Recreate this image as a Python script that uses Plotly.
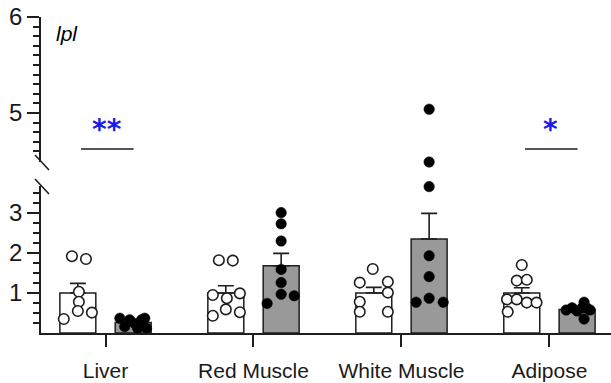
import plotly.graph_objects as go
import numpy as np

# Tissues on the x axis
tissues = ["Liver", "Red Muscle", "White Muscle", "Adipose"]

# Individual relative expression values (open = control, filled = treated)
ctrl_points = [
    [1.92, 1.85, 1.03, 0.78, 0.55, 0.51, 0.35],
    [1.82, 1.81, 0.95, 0.87, 0.99, 0.59, 0.52, 0.43],
    [1.60, 1.26, 1.28, 1.01, 0.78, 0.53, 0.53],
    [1.70, 1.31, 1.33, 0.84, 0.84, 0.76, 0.76, 0.53],
]
trt_points = [
    [0.37, 0.16, 0.33, 0.24, 0.12, 0.37, 0.12, 0.33],
    [3.01, 2.73, 2.30, 1.59, 1.26, 0.97, 0.93, 0.74],
    [5.04, 4.49, 3.66, 1.93, 1.41, 0.87, 0.77, 0.77],
    [0.575, 0.63, 0.55, 0.77, 0.575, 0.35, 0.63, 0.62],
]

# Bar means and SEM
ctrl_mean = [1.0, 1.0, 1.0, 1.0]
ctrl_sem = [0.24, 0.18, 0.14, 0.13]
trt_mean = [0.26, 1.68, 2.35, 0.59]
trt_sem = [0.04, 0.31, 0.64, 0.05]

# Horizontal spread of the dots within each bar (category units)
ctrl_jitter = [
    [-0.04, 0.055, 0.007, 0.007, 0.0, 0.095, -0.095],
    [-0.047, 0.047, -0.088, 0.007, 0.095, 0.0, 0.095, -0.088],
    [-0.007, -0.095, 0.095, 0.095, -0.095, -0.095, 0.095],
    [0.0, -0.034, 0.034, -0.1, -0.034, 0.034, 0.1, -0.095],
]
trt_jitter = [
    [-0.09, -0.057, -0.024, 0.01, 0.03, 0.078, 0.09, 0.057],
    [0.0, 0.0, 0.0, 0.0, 0.0, 0.0, 0.088, -0.095],
    [0.0, 0.0, 0.0, 0.0, 0.0, 0.0, -0.088, 0.095],
    [-0.074, -0.034, 0.0, 0.047, 0.088, 0.047, 0.034, 0.068],
]

# Significance marks: (tissue index, label)
sig_marks = [(0, "**"), (3, "*")]
sig_level = 4.625

# Broken axis layout
LOW_RANGE = [0, 3.675]
HIGH_RANGE = [4.49, 6]
LOW_DOM = [0, 0.4652]
HIGH_DOM = [0.5411, 1]

INK = "#1e1e1e"
GREY = "#999999"
FONT = "Liberation Sans, Arial, sans-serif"
OFF = 0.187
BW = 0.243

idx = np.arange(len(tissues))
fig = go.Figure()

fig.add_trace(go.Bar(
    x=idx - OFF, y=ctrl_mean, width=BW,
    marker=dict(color="white", line=dict(color=INK, width=1.5)),
    error_y=dict(type="data", array=ctrl_sem, arrayminus=[0] * 4, symmetric=False,
                 color=INK, thickness=1.6, width=8),
    xaxis="x", yaxis="y", showlegend=False,
))
fig.add_trace(go.Bar(
    x=idx + OFF, y=trt_mean, width=BW,
    marker=dict(color=GREY, line=dict(color=INK, width=1.5)),
    error_y=dict(type="data", array=trt_sem, arrayminus=[0] * 4, symmetric=False,
                 color=INK, thickness=1.6, width=8),
    xaxis="x", yaxis="y", showlegend=False,
))


def split_points(points, jitter, offset):
    lo_x, lo_y, hi_x, hi_y = [], [], [], []
    for i, (vals, jit) in enumerate(zip(points, jitter)):
        for v, j in zip(vals, jit):
            xv = i + offset + j
            if v > 4:
                hi_x.append(xv); hi_y.append(v)
            else:
                lo_x.append(xv); lo_y.append(v)
    return lo_x, lo_y, hi_x, hi_y


open_marker = dict(symbol="circle", size=10.5, color="white", line=dict(color=INK, width=1.6))
fill_marker = dict(symbol="circle", size=10.5, color="black", line=dict(color="black", width=0.5))

for pts, jit, off, mk in [(ctrl_points, ctrl_jitter, -OFF, open_marker),
                          (trt_points, trt_jitter, OFF, fill_marker)]:
    lx, ly, hx, hy = split_points(pts, jit, off)
    fig.add_trace(go.Scatter(x=lx, y=ly, mode="markers", marker=mk, cliponaxis=False,
                             xaxis="x", yaxis="y", showlegend=False))
    if hx:
        fig.add_trace(go.Scatter(x=hx, y=hy, mode="markers", marker=mk, cliponaxis=False,
                                 xaxis="x", yaxis="y2", showlegend=False))

# Significance bars and stars
for ti, lab in sig_marks:
    fig.add_shape(type="line", xref="x", yref="y2", x0=ti - 0.165, x1=ti + 0.19,
                  y0=sig_level, y1=sig_level, line=dict(color="#555555", width=2))
    fig.add_annotation(x=ti + 0.01, y=sig_level, xref="x", yref="y2", text="<b>" + lab + "</b>",
                       showarrow=False, yanchor="bottom", yshift=1,
                       font=dict(family="DejaVu Sans, sans-serif", size=28, color="#1a1ae6"))

# Gene label
fig.add_annotation(x=0.022, y=1.0, xref="paper", yref="paper", text="<i>lpl</i>",
                   showarrow=False, xanchor="left", yanchor="top", yshift=-3,
                   font=dict(family=FONT, size=21, color="black"))

# Break slashes on the y axis
H = 383 - 17 - 50
W = 611 - 41
for yd in (HIGH_DOM[0], LOW_DOM[1]):
    fig.add_shape(type="line", xref="paper", yref="paper",
                  x0=-6 / W, x1=8 / W,
                  y0=yd + 7 / H, y1=yd - 8 / H,
                  line=dict(color=INK, width=1.6))

axis_common = dict(showline=True, linecolor=INK, linewidth=1.6, ticks="outside",
                   ticklen=12, tickwidth=1.6, tickcolor=INK, showgrid=False,
                   zeroline=False)

y_font = dict(family=FONT, size=24, color="#1a1a1a")

fig.update_layout(
    width=611, height=383,
    margin=dict(l=41, r=0, t=17, b=50),
    plot_bgcolor="white", paper_bgcolor="white",
    barmode="overlay",
    xaxis=dict(range=[-0.436, 3.416], tickvals=list(idx), ticktext=tissues,
               anchor="y", ticklabelstandoff=6,
               tickfont=dict(family=FONT, size=21, color="#1a1a1a"), **axis_common),
    yaxis=dict(domain=LOW_DOM, range=LOW_RANGE, tickvals=[1, 2, 3], anchor="x",
               tickfont=y_font,
               minor=dict(tickvals=[0.25, 0.5, 0.75, 1.25, 1.5, 1.75, 2.25, 2.5, 2.75, 3.25, 3.5],
                          ticks="outside", ticklen=6, tickwidth=1.6, tickcolor=INK),
               **axis_common),
    yaxis2=dict(domain=HIGH_DOM, range=HIGH_RANGE, tickvals=[5, 6], anchor="x",
                tickfont=y_font,
                minor=dict(tickvals=[4.6, 4.7, 4.8, 4.9, 5.1, 5.2, 5.3, 5.4, 5.5, 5.6, 5.7, 5.8, 5.9],
                           ticks="outside", ticklen=6, tickwidth=1.6, tickcolor=INK),
                **axis_common),
)

fig.write_html("out.html")
